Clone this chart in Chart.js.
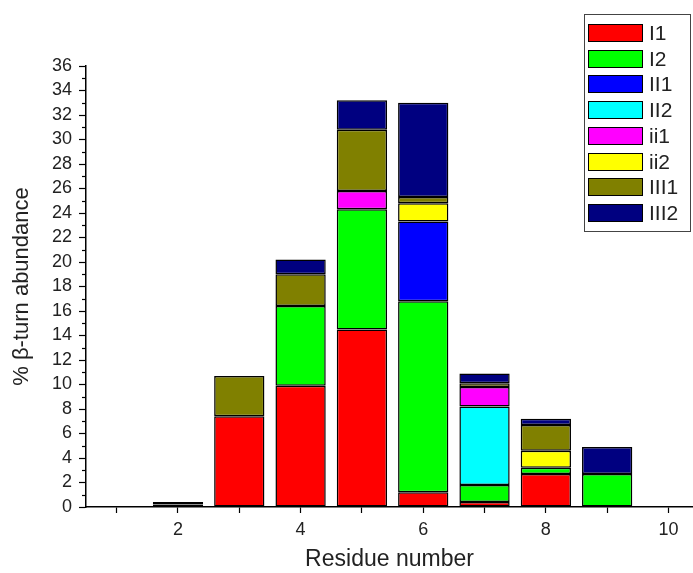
<!DOCTYPE html>
<html>
<head>
<meta charset="utf-8">
<script src="https://cdn.jsdelivr.net/npm/chart.js@4/dist/chart.umd.min.js"></script>
<style>
  body { margin: 0; background: #fff; }
  #chart { display: block; }
</style>
</head>
<body>
<canvas id="chart" width="693" height="573"></canvas>
<script>
// residue positions (x) and abundance per beta-turn type (%)
var residues = [2, 3, 4, 5, 6, 7, 8, 9];
var typeI1   = [0.2, 7.4, 9.9, 14.5, 1.2, 0.4, 2.7, null];
var typeI2   = [null, null, 6.5, 9.8, 15.6, 1.4, 0.5, 2.7];
var typeII1  = [null, null, null, null, 6.5, null, null, null];
var typeII2  = [null, null, null, null, null, 6.4, null, null];
var typeii1  = [null, null, null, 1.5, null, 1.6, null, null];
var typeii2  = [null, null, null, null, 1.5, null, 1.4, null];
var typeIII1 = [0.2, 3.3, 2.6, 5.0, 0.5, 0.3, 2.1, null];
var typeIII2 = [null, null, 1.2, 2.4, 7.7, 0.8, 0.5, 2.2];

var yTicks = [0, 36];
var FONT = '"Liberation Sans", Arial, sans-serif';

function makeSet(label, data, color) {
  return {
    label: label,
    data: data,
    backgroundColor: color,
    borderColor: '#000',
    borderWidth: 1.5,
    borderSkipped: false,
    barPercentage: 0.82,
    categoryPercentage: 1
  };
}

// legend drawn as a boxed list in the top right corner
var legendBox = {
  id: 'legendBox',
  afterDraw: function (chart) {
    var ctx = chart.ctx;
    ctx.save();
    ctx.fillStyle = '#fff';
    ctx.strokeStyle = '#444';
    ctx.lineWidth = 1;
    ctx.fillRect(584.5, 14.5, 106, 217);
    ctx.strokeRect(584.5, 14.5, 106, 217);
    chart.data.datasets.forEach(function (ds, i) {
      var y = Math.round(24 + i * 25.7);
      ctx.fillStyle = ds.backgroundColor;
      ctx.fillRect(588, y, 55, 18);
      ctx.strokeStyle = '#000';
      ctx.strokeRect(588.5, y + 0.5, 54, 17);
      ctx.fillStyle = '#222';
      ctx.font = '21px ' + FONT;
      ctx.textBaseline = 'middle';
      ctx.fillText(ds.label, 649, y + 10);
    });
    ctx.restore();
  }
};

// short minor ticks on the y axis at odd values
var minorTicks = {
  id: 'minorTicks',
  afterDraw: function (chart) {
    var ctx = chart.ctx;
    var ys = chart.scales.y;
    var x0 = chart.chartArea.left;
    ctx.save();
    ctx.strokeStyle = '#000';
    ctx.lineWidth = 1.2;
    for (var v = yTicks[0] + 1; v < yTicks[1]; v += 2) {
      var py = Math.round(ys.getPixelForValue(v)) + 0.5;
      ctx.beginPath();
      ctx.moveTo(x0 - 4, py);
      ctx.lineTo(x0, py);
      ctx.stroke();
    }
    ctx.restore();
  }
};

var config = {
  type: 'bar',
  data: {
    labels: residues,
    datasets: [
      makeSet('I1', typeI1, '#ff0000'),
      makeSet('I2', typeI2, '#00ff00'),
      makeSet('II1', typeII1, '#0000ff'),
      makeSet('II2', typeII2, '#00ffff'),
      makeSet('ii1', typeii1, '#ff00ff'),
      makeSet('ii2', typeii2, '#ffff00'),
      makeSet('III1', typeIII1, '#808000'),
      makeSet('III2', typeIII2, '#000080')
    ]
  },
  options: {
    responsive: false,
    animation: false,
    layout: { padding: { top: 66, right: 0, bottom: 0, left: 0 } },
    plugins: {
      legend: { display: false },
      tooltip: { enabled: false }
    },
    scales: {
      x: {
        type: 'linear',
        stacked: true,
        min: 0.5,
        max: 10.4,
        offset: false,
        grid: { display: true, drawOnChartArea: false, offset: false, tickLength: 6, tickColor: '#000', tickWidth: 1.2 },
        border: { color: '#000', width: 1.5 },
        ticks: {
          stepSize: 1,
          includeBounds: false,
          maxRotation: 0,
          autoSkip: false,
          padding: 6,
          color: '#222',
          font: { family: FONT, size: 18 },
          callback: function (v) { return v % 2 === 0 ? String(v) : ''; }
        },
        title: {
          display: true,
          text: 'Residue number',
          color: '#222',
          font: { family: FONT, size: 23 },
          padding: { top: 2, bottom: 0 }
        },
        afterFit: function (scale) { scale.height = 66; }
      },
      y: {
        stacked: true,
        min: yTicks[0],
        max: yTicks[1],
        grid: { display: true, drawOnChartArea: false, tickLength: 7, tickColor: '#000', tickWidth: 1.2 },
        border: { color: '#000', width: 1.5 },
        ticks: {
          stepSize: 2,
          autoSkip: false,
          padding: 7,
          color: '#222',
          font: { family: FONT, size: 18 }
        },
        title: {
          display: true,
          text: '% \u03b2-turn abundance',
          color: '#222',
          font: { family: FONT, size: 22 },
          padding: { top: 9, bottom: 0 }
        },
        afterFit: function (scale) { scale.width = 86; }
      }
    }
  },
  plugins: [legendBox, minorTicks]
};

window.onload = function () {
  var ctx = document.getElementById('chart').getContext('2d');
  window.myChart = new Chart(ctx, config);
};
</script>
</body>
</html>
